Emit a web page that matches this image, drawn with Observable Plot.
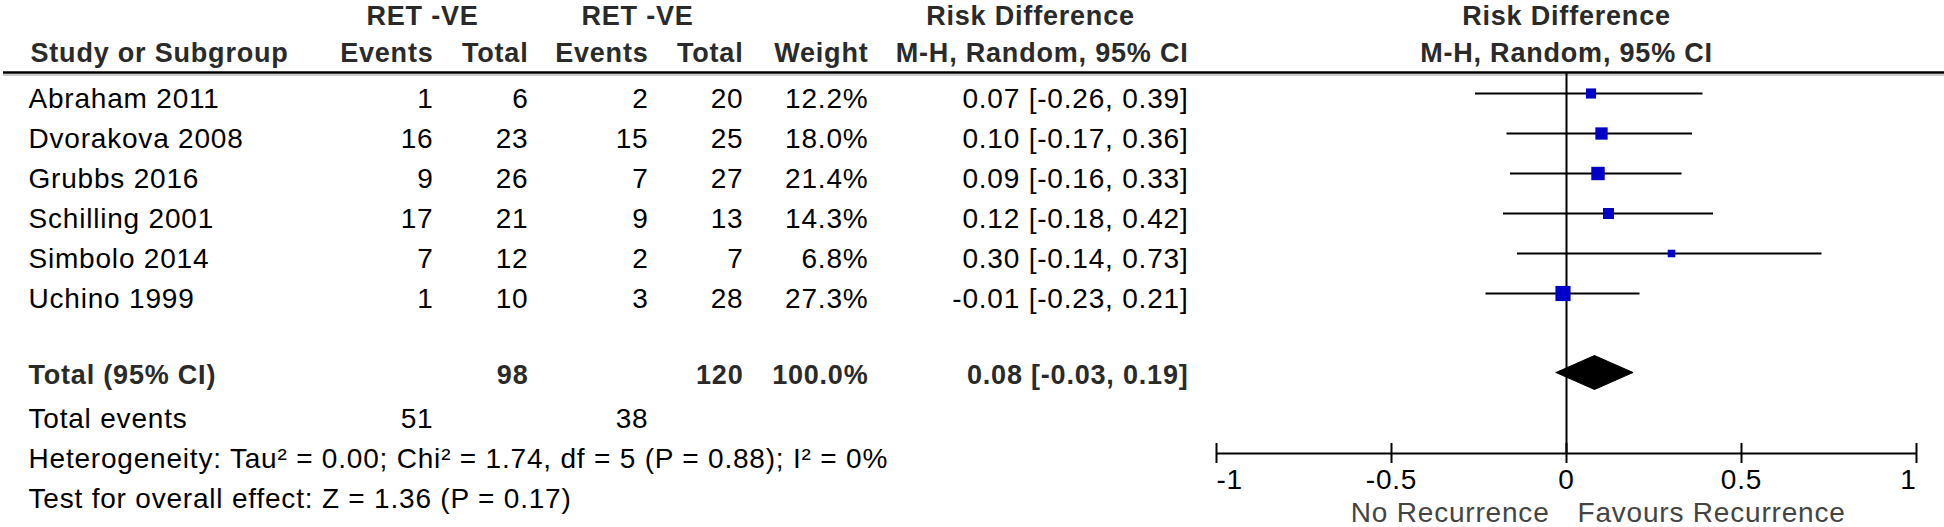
<!DOCTYPE html>
<html>
<head>
<meta charset="utf-8">
<script src="https://cdn.jsdelivr.net/npm/d3@7"></script>
<script src="https://cdn.jsdelivr.net/npm/@observablehq/plot@0.6"></script>
<style>
  html, body { margin: 0; padding: 0; background: #fff; }
  #chart { width: 1944px; height: 527px; }
</style>
</head>
<body>
<div id="chart"></div>
<script>
// ---------- data ----------
const studies   = ["Abraham 2011", "Dvorakova 2008", "Grubbs 2016", "Schilling 2001", "Simbolo 2014", "Uchino 1999"];
const eventsA   = [1, 16, 9, 17, 7, 1];
const totalA    = [6, 23, 26, 21, 12, 10];
const eventsB   = [2, 15, 7, 9, 2, 3];
const totalB    = [20, 25, 27, 13, 7, 28];
const weights   = [12.2, 18.0, 21.4, 14.3, 6.8, 27.3];
const estimates = [0.07, 0.10, 0.09, 0.12, 0.30, -0.01];
const lowers    = [-0.26, -0.17, -0.16, -0.18, -0.14, -0.23];
const uppers    = [0.39, 0.36, 0.33, 0.42, 0.73, 0.21];

const pooledEstimate = 0.08;
const pooledLower    = -0.03;
const pooledUpper    = 0.19;
const pooledTotalA   = 98;
const pooledTotalB   = 120;
const pooledWeight   = 100.0;
const totalEventsA   = 51;
const totalEventsB   = 38;

const axisTicks      = [-1, -0.5, 0, 0.5, 1];
const axisTickLabels = ["-1", "-0.5", "0", "0.5", "1"];

const groupLabel   = "RET -VE";
const effectTitle  = "Risk Difference";
const effectMethod = "M-H, Random, 95% CI";
const heterogeneityText = "Heterogeneity: Tau\u00B2 = 0.00; Chi\u00B2 = 1.74, df = 5 (P = 0.88); I\u00B2 = 0%";
const overallText       = "Test for overall effect: Z = 1.36 (P = 0.17)";
const leftFavour  = "No Recurrence";
const rightFavour = "Favours Recurrence";

// ---------- derived table ----------
const fmt2 = v => v.toFixed(2);
const rows = studies.map((name, i) => ({
  name, row: i,
  eA: eventsA[i], tA: totalA[i], eB: eventsB[i], tB: totalB[i],
  w: weights[i], est: estimates[i], lo: lowers[i], hi: uppers[i],
  ci: `${fmt2(estimates[i])} [${fmt2(lowers[i])}, ${fmt2(uppers[i])}]`
}));

// ---------- layout (rows / pixel columns) ----------
const Y = {head1: -2.0875, head2: -1.15, headerLine: -0.675, total: 6.9, totalEvents: 8, het: 9, test: 10,
           axis: 8.85, tickTop: 8.6, tickBottom: 9.1, tickLabel: 9.525, favours: 10.35};
const COL = {study: 28, eventsA: 433, totalA: 528, eventsB: 648, totalB: 743, weight: 868, ci: 1188,
             groupA: 422, groupB: 637, effectTitle: 1030};
const REG = 28, BOLD = 27;
const boldFill = "#2a2a2a";

function colText(data, text, dx, anchor, y, opts = {}) {
  return Plot.text(data, {text, y, frameAnchor: "left", dx, textAnchor: anchor,
    fontSize: REG, fill: "black", ...opts});
}
function single(str, dx, anchor, y, opts = {}) {
  return colText([str], d => d, dx, anchor, () => y, opts);
}

const diamond = [
  {x: pooledLower, y: Y.total},
  {x: pooledEstimate, y: Y.total - 0.425},
  {x: pooledUpper, y: Y.total},
  {x: pooledEstimate, y: Y.total + 0.425},
  {x: pooledLower, y: Y.total}
];

const ticks = axisTicks.map((t, i) => ({t, label: axisTickLabels[i]}));

const chart = Plot.plot({
  width: 1944,
  height: 527,
  margin: 0,
  style: {fontFamily: "'Liberation Sans', Arial, sans-serif", background: "white", color: "black", letterSpacing: "0.8px"},
  x: {domain: [-1, 1], range: [1216, 1916], axis: null},
  y: {domain: [-2.475, 10.7], range: [0, 527], axis: null},
  r: {type: "sqrt", domain: [0, 30], range: [0, 1.636 * Math.sqrt(30)]},
  marks: [
    // header rules
    Plot.ruleY([Y.headerLine], {stroke: "black", strokeWidth: 2.5, insetLeft: 3}),
    Plot.ruleY([Y.headerLine], {stroke: "#999", strokeWidth: 1, dy: 2.5, insetLeft: 3}),
    // zero line
    Plot.ruleX([0], {y1: Y.headerLine, y2: Y.axis, stroke: "black", strokeWidth: 2}),
    // CI lines and squares
    Plot.ruleY(rows, {y: "row", x1: "lo", x2: "hi", dy: -6, stroke: "black", strokeWidth: 2}),
    Plot.dot(rows, {x: "est", y: "row", r: "w", symbol: "square", fill: "#0000c8", dy: -6}),
    // pooled diamond
    Plot.line(diamond, {x: "x", y: "y", fill: "black", stroke: "black", strokeWidth: 1, dy: -3}),
    // axis
    Plot.ruleY([Y.axis], {x1: axisTicks[0], x2: axisTicks[axisTicks.length - 1], stroke: "black", strokeWidth: 2}),
    Plot.ruleX(ticks, {x: "t", y1: Y.tickTop, y2: Y.tickBottom, stroke: "black", strokeWidth: 2}),
    Plot.text(ticks.slice(0, 1), {x: "t", y: () => Y.tickLabel, text: "label", textAnchor: "start", fontSize: REG}),
    Plot.text(ticks.slice(1, -1), {x: "t", y: () => Y.tickLabel, text: "label", textAnchor: "middle", fontSize: REG}),
    Plot.text(ticks.slice(-1), {x: "t", y: () => Y.tickLabel, text: "label", textAnchor: "end", fontSize: REG}),
    Plot.text([leftFavour], {x: () => 0, y: () => Y.favours, text: d => d, textAnchor: "end", dx: -17, fontSize: REG, fill: "#444"}),
    Plot.text([rightFavour], {x: () => 0, y: () => Y.favours, text: d => d, textAnchor: "start", dx: 11, fontSize: REG, fill: "#444"}),
    // right panel header
    Plot.text([effectTitle], {x: () => 0, y: () => Y.head1, text: d => d, textAnchor: "middle", fontSize: BOLD, fontWeight: "bold", fill: boldFill}),
    Plot.text([effectMethod], {x: () => 0, y: () => Y.head2, text: d => d, textAnchor: "middle", fontSize: BOLD, fontWeight: "bold", fill: boldFill}),
    // table headers
    single(groupLabel, COL.groupA, "middle", Y.head1, {fontSize: BOLD, fontWeight: "bold", fill: boldFill}),
    single(groupLabel, COL.groupB, "middle", Y.head1, {fontSize: BOLD, fontWeight: "bold", fill: boldFill}),
    single(effectTitle, COL.effectTitle, "middle", Y.head1, {fontSize: BOLD, fontWeight: "bold", fill: boldFill}),
    single("Study or Subgroup", COL.study + 2, "start", Y.head2, {fontSize: BOLD, fontWeight: "bold", fill: boldFill}),
    single("Events", COL.eventsA, "end", Y.head2, {fontSize: BOLD, fontWeight: "bold", fill: boldFill}),
    single("Total", COL.totalA, "end", Y.head2, {fontSize: BOLD, fontWeight: "bold", fill: boldFill}),
    single("Events", COL.eventsB, "end", Y.head2, {fontSize: BOLD, fontWeight: "bold", fill: boldFill}),
    single("Total", COL.totalB, "end", Y.head2, {fontSize: BOLD, fontWeight: "bold", fill: boldFill}),
    single("Weight", COL.weight, "end", Y.head2, {fontSize: BOLD, fontWeight: "bold", fill: boldFill}),
    single(effectMethod, COL.ci, "end", Y.head2, {fontSize: BOLD, fontWeight: "bold", fill: boldFill}),
    // study rows
    colText(rows, "name", COL.study, "start", "row"),
    colText(rows, "eA", COL.eventsA, "end", "row"),
    colText(rows, "tA", COL.totalA, "end", "row"),
    colText(rows, "eB", COL.eventsB, "end", "row"),
    colText(rows, "tB", COL.totalB, "end", "row"),
    colText(rows, d => d.w.toFixed(1) + "%", COL.weight, "end", "row"),
    colText(rows, "ci", COL.ci, "end", "row"),
    // total row
    single("Total (95% CI)", COL.study, "start", Y.total, {fontSize: BOLD, fontWeight: "bold", fill: boldFill}),
    single(String(pooledTotalA), COL.totalA, "end", Y.total, {fontSize: BOLD, fontWeight: "bold", fill: boldFill}),
    single(String(pooledTotalB), COL.totalB, "end", Y.total, {fontSize: BOLD, fontWeight: "bold", fill: boldFill}),
    single(pooledWeight.toFixed(1) + "%", COL.weight, "end", Y.total, {fontSize: BOLD, fontWeight: "bold", fill: boldFill}),
    single(`${fmt2(pooledEstimate)} [${fmt2(pooledLower)}, ${fmt2(pooledUpper)}]`, COL.ci, "end", Y.total, {fontSize: BOLD, fontWeight: "bold", fill: boldFill}),
    // footer rows
    single("Total events", COL.study, "start", Y.totalEvents),
    single(String(totalEventsA), COL.eventsA, "end", Y.totalEvents),
    single(String(totalEventsB), COL.eventsB, "end", Y.totalEvents),
    single(heterogeneityText, COL.study, "start", Y.het),
    single(overallText, COL.study, "start", Y.test)
  ]
});
document.getElementById("chart").appendChild(chart);
</script>
</body>
</html>
